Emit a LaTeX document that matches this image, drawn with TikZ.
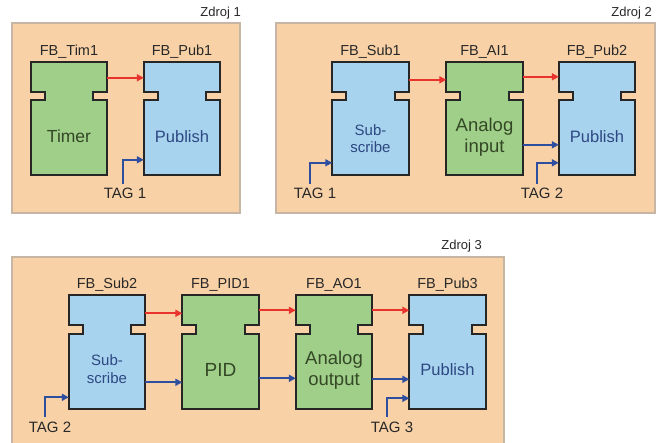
\documentclass[tikz,border=0pt]{standalone}
\usepackage{fontspec}
\setmainfont{Liberation Sans}
\usetikzlibrary{calc,arrows.meta}
\pgfdeclarelayer{back}
\pgfdeclarelayer{mid}
\pgfsetlayers{back,mid,main}
\definecolor{panelc}{RGB}{249,209,166}
\definecolor{panelb}{RGB}{200,182,164}
\definecolor{greenc}{RGB}{160,207,138}
\definecolor{bluec}{RGB}{168,211,238}
\definecolor{redc}{RGB}{232,52,45}
\definecolor{arrb}{RGB}{46,78,160}
\definecolor{gtext}{RGB}{52,72,38}
\definecolor{btext}{RGB}{45,72,130}
\definecolor{ltext}{RGB}{40,40,40}
\tikzset{
  fbbox/.style={minimum width=76pt,minimum height=113pt,inner sep=0pt,draw=none},
  panel/.style={fill=panelc,draw=panelb,line width=1.2pt},
  rarr/.style={draw=redc,line width=1.8pt,-{Triangle[length=7pt,width=7pt]}},
  barr/.style={draw=arrb,line width=1.8pt,-{Triangle[length=7pt,width=7pt]}},
  fblab/.style={font=\fontsize{14.5}{16}\selectfont,text=ltext,inner sep=0pt},
  taglab/.style={font=\fontsize{15}{17}\selectfont,text=ltext,inner sep=0pt},
  zlab/.style={font=\fontsize{13}{15}\selectfont,text=ltext,inner sep=0pt,anchor=east},
  gtxt/.style={text=gtext,align=center,inner sep=0pt},
  btxt/.style={text=btext,align=center,inner sep=0pt},
}
\newcommand\fboutline[2]{%
  \begin{pgfonlayer}{mid}
  \draw[line width=2pt,fill=#2,draw=black!85,line join=miter]
    (#1.north west) -- (#1.north east) -- ++(0,30) -- ++(-14,0) -- ++(0,8.5) -- ++(14,0)
    -- (#1.south east) -- (#1.south west) -- ($(#1.north west)+(0,38.5)$)
    -- ++(14,0) -- ++(0,-8.5) -- ++(-14,0) -- cycle;
  \end{pgfonlayer}}
\begin{document}
\begin{tikzpicture}[x=1pt,y=-1pt]
\useasboundingbox (0,0) rectangle (657,443);
% panels
\begin{pgfonlayer}{back}
\fill[white] (0,0) rectangle (657,443);
\draw[panel] (12,23) rectangle (240,213);
\draw[panel] (276,23) rectangle (655,213);
\draw[panel] (12,257) rectangle (504,444);
\end{pgfonlayer}
\node[zlab] (z1) at (241,13) {Zdroj 1};
\node[zlab] (z2) at (652,13) {Zdroj 2};
\node[zlab] (z3) at (482,246) {Zdroj 3};
% ---- panel 1
\node[fbbox] (tim) at (69,118.5) {};
\node[fbbox] (pub1) at (182,118.5) {};
\fboutline{tim}{greenc}
\fboutline{pub1}{bluec}
\node[fblab] (ltim) at (69,52) {FB\_Tim1};
\node[fblab] (lpub1) at (182,52) {FB\_Pub1};
\node[gtxt,font=\fontsize{17.5}{20}\selectfont] (ttim) at ($(tim.center)+(0,18)$) {Timer};
\node[btxt,font=\fontsize{16.5}{20}\selectfont] (tpub1) at ($(pub1.center)+(0,18)$) {Publish};
\draw[rarr] ($(tim.north east)+(0,16)$) -- ($(pub1.north west)+(0,16)$);
\node[taglab] (tag1a) at (125,193) {TAG 1};
\coordinate (s1) at (123,184);
\draw[barr] (s1) |- ($(pub1.north west)+(0,98)$);
% ---- panel 2
\node[fbbox] (sub1) at (370.5,118.5) {};
\node[fbbox] (ai1) at (484.5,118.5) {};
\node[fbbox] (pub2) at (597,118.5) {};
\fboutline{sub1}{bluec}
\fboutline{ai1}{greenc}
\fboutline{pub2}{bluec}
\node[fblab] (lsub1) at (370.5,52) {FB\_Sub1};
\node[fblab] (lai1) at (484.5,52) {FB\_AI1};
\node[fblab] (lpub2) at (597,52) {FB\_Pub2};
\node[btxt,font=\fontsize{15}{17.5}\selectfont] (tsub1) at ($(sub1.center)+(0,20)$) {Sub-\\scribe};
\node[gtxt,font=\fontsize{18.5}{21}\selectfont] (tai1) at ($(ai1.center)+(0,19)$) {Analog\\input};
\node[btxt,font=\fontsize{16.5}{20}\selectfont] (tpub2) at ($(pub2.center)+(0,18)$) {Publish};
\draw[rarr] ($(sub1.north east)+(0,18)$) -- ($(ai1.north west)+(0,18)$);
\draw[rarr] ($(ai1.north east)+(0,15)$) -- ($(pub2.north west)+(0,15)$);
\draw[barr] ($(ai1.north east)+(0,83)$) -- ($(pub2.north west)+(0,83)$);
\node[taglab] (tag1b) at (315,193) {TAG 1};
\coordinate (s2) at (310,184);
\draw[barr] (s2) |- ($(sub1.north west)+(0,101)$);
\node[taglab] (tag2b) at (542,193) {TAG 2};
\coordinate (s3) at (537,184);
\draw[barr] (s3) |- ($(pub2.north west)+(0,101)$);
% ---- panel 3
\node[fbbox] (sub2) at (107,352) {};
\node[fbbox] (pid) at (220.5,352) {};
\node[fbbox] (ao) at (334,352) {};
\node[fbbox] (pub3) at (447.5,352) {};
\fboutline{sub2}{bluec}
\fboutline{pid}{greenc}
\fboutline{ao}{greenc}
\fboutline{pub3}{bluec}
\node[fblab] (lsub2) at (107,285) {FB\_Sub2};
\node[fblab] (lpid) at (220.5,285) {FB\_PID1};
\node[fblab] (lao) at (334,285) {FB\_AO1};
\node[fblab] (lpub3) at (447.5,285) {FB\_Pub3};
\node[btxt,font=\fontsize{15}{17.5}\selectfont] (tsub2) at ($(sub2.center)+(0,17)$) {Sub-\\scribe};
\node[gtxt,font=\fontsize{19}{21}\selectfont] (tpid) at ($(pid.center)+(0,18)$) {PID};
\node[gtxt,font=\fontsize{18.5}{21}\selectfont] (tao) at ($(ao.center)+(0,18)$) {Analog\\output};
\node[btxt,font=\fontsize{16.5}{20}\selectfont] (tpub3) at ($(pub3.center)+(0,18)$) {Publish};
\draw[rarr] ($(sub2.north east)+(0,18)$) -- ($(pid.north west)+(0,18)$);
\draw[rarr] ($(pid.north east)+(0,15)$) -- ($(ao.north west)+(0,15)$);
\draw[rarr] ($(ao.north east)+(0,15)$) -- ($(pub3.north west)+(0,15)$);
\draw[barr] ($(sub2.north east)+(0,87)$) -- ($(pid.north west)+(0,87)$);
\draw[barr] ($(pid.north east)+(0,83)$) -- ($(ao.north west)+(0,83)$);
\draw[barr] ($(ao.north east)+(0,84)$) -- ($(pub3.north west)+(0,84)$);
\node[taglab] (tag2c) at (50,427) {TAG 2};
\coordinate (s4) at (45,417);
\draw[barr] (s4) |- ($(sub2.north west)+(0,102)$);
\node[taglab] (tag3c) at (392,427) {TAG 3};
\coordinate (s5) at (387,417);
\draw[barr] (s5) |- ($(pub3.north west)+(0,103)$);
\end{tikzpicture}
\end{document}
